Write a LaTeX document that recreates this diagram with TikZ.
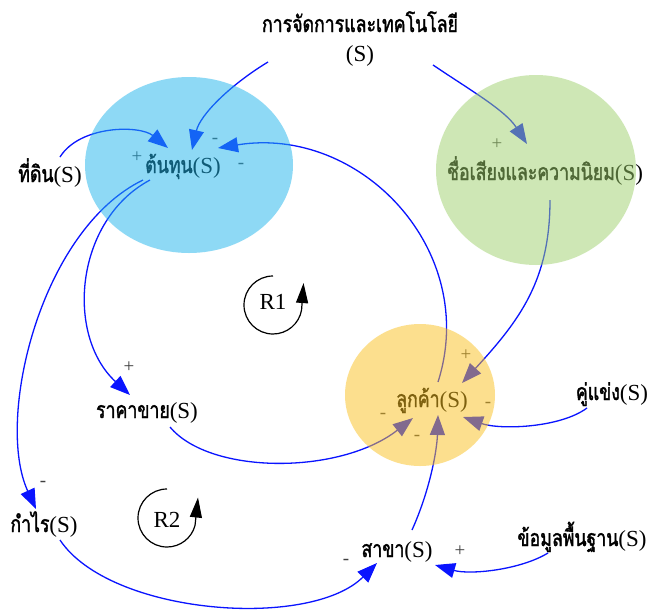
\documentclass[tikz,border=0pt]{standalone}
\usepackage{fontspec}
\setmainfont{Liberation Serif}
\newfontfamily\thai[Script=Thai, FakeStretch=0.77, FakeBold=1.6]{Loma}
\usetikzlibrary{arrows.meta}
\definecolor{cblue}{HTML}{1FB5ED}
\definecolor{cgreen}{HTML}{9FD16D}
\definecolor{cyellow}{HTML}{FBC11F}
\definecolor{linkblue}{HTML}{0A14FF}
\begin{document}
\begin{tikzpicture}[x=1pt,y=-1pt,
  lbl/.style={font=\fontsize{23}{29}\selectfont, inner sep=0pt, anchor=base},
  sgn/.style={font=\fontsize{19}{21}\selectfont, text=black!75, inner sep=0pt},
  link/.style={draw=linkblue, line width=1.3pt, -{Triangle[length=20pt,width=15pt]}},
  loopar/.style={draw=black, line width=1.2pt, -{Triangle[length=20pt,width=12pt]}},
  bub/.style={fill opacity=0.5, draw=none}]
\useasboundingbox (0,0) rectangle (651,611);
\fill[white] (0,0) rectangle (651,611);

% labels
\node[lbl, align=center] (mgmt) at (360,61) {{\thai การจัดการและเทคโนโลยี}\\(S)};
\node[lbl] (cost) at (183,173) {{\thai ต้นทุน}(S)};
\node[lbl] (land) at (50,182) {{\thai ที่ดิน}(S)};
\node[lbl] (fame) at (545,180) {{\thai ชื่อเสียงและความนิยม}(S)};
\node[lbl] (cust) at (432,407) {{\thai ลูกค้า}(S)};
\node[lbl] (comp) at (612,400) {{\thai คู่แข่ง}(S)};
\node[lbl] (price) at (147,418) {{\thai ราคาขาย}(S)};
\node[lbl] (profit) at (44,532) {{\thai กำไร}(S)};
\node[lbl] (branch) at (397,557) {{\thai สาขา}(S)};
\node[lbl] (basic) at (582,546) {{\thai ข้อมูลพื้นฐาน}(S)};
\node[lbl] (r1) at (273,309) {R1};
\node[lbl] (r2) at (167,527) {R2};

% polarity signs
\node[sgn] (s1) at (137,157) {+};
\node[sgn] (s2) at (215,141) {-};
\node[sgn] (s3) at (241,166) {-};
\node[sgn] (s4) at (497,144) {+};
\node[sgn] (s5) at (466,355) {+};
\node[sgn] (s6) at (383,416) {-};
\node[sgn] (s7) at (417,438) {-};
\node[sgn] (s8) at (488,405) {-};
\node[sgn] (s9) at (129,367) {+};
\node[sgn] (s10) at (43,484) {-};
\node[sgn] (s11) at (346,562) {-};
\node[sgn] (s12) at (460,551) {+};

% connectors
\draw[link] ([shift={(-92,1)}]mgmt.base) .. controls +(-38,23) and +(8,-35) .. ([shift={(9,-23)}]cost.base);
\draw[link] ([shift={(73,4)}]mgmt.base) .. controls +(37,25) and +(-22,-34) .. ([shift={(-18,-36)}]fame.base);
\draw[link] ([shift={(10,-25)}]land.base) .. controls +(20,-32) and +(-28,-23) .. ([shift={(-15,-25)}]cost.base);
\draw[link] ([shift={(6,-25)}]cust.base) .. controls +(42,-132) and +(142,-23) .. ([shift={(35,-25)}]cost.base);
\draw[link] ([shift={(-33,7)}]cost.base) .. controls +(-75,40) and +(-65,-60) .. ([shift={(-17,-23)}]price.base);
\draw[link] ([shift={(-40,7)}]cost.base) .. controls +(-103,50) and +(-41,-89) .. ([shift={(-8,-23)}]profit.base);
\draw[link] ([shift={(23,9)}]price.base) .. controls +(40,48) and +(-73,57) .. ([shift={(-19,11)}]cust.base);
\draw[link] ([shift={(5,20)}]fame.base) .. controls +(0,80) and +(58,-63) .. ([shift={(30,-24)}]cust.base);
\draw[link] ([shift={(-25,8)}]comp.base) .. controls +(-27,20) and +(37,13) .. ([shift={(31,10)}]cust.base);
\draw[link] ([shift={(15,-27)}]branch.base) .. controls +(18,-40) and +(-1,35) .. ([shift={(6,8)}]cust.base);
\draw[link] ([shift={(16,8)}]profit.base) .. controls +(50,75) and +(-67,67) .. ([shift={(-20,6)}]branch.base);
\draw[link] ([shift={(-34,7)}]basic.base) .. controls +(-28,17) and +(35,10) .. ([shift={(38,8)}]branch.base);

% loop markers
\draw[loopar] ([shift={(0,-33)}]r1.base) arc[start angle=270, end angle=10, radius=29] -- +(2,-27);
\draw[loopar] ([shift={(0,-38)}]r2.base) arc[start angle=270, end angle=15, radius=29] -- +(3,-28);

% translucent bubbles on top
\fill[cblue, bub] (189,165) ellipse[x radius=104, y radius=88];
\fill[cgreen, bub] (536,170) ellipse[x radius=100, y radius=95];
\fill[cyellow, bub] (420,395) ellipse[x radius=75, y radius=71];
\end{tikzpicture}
\end{document}
